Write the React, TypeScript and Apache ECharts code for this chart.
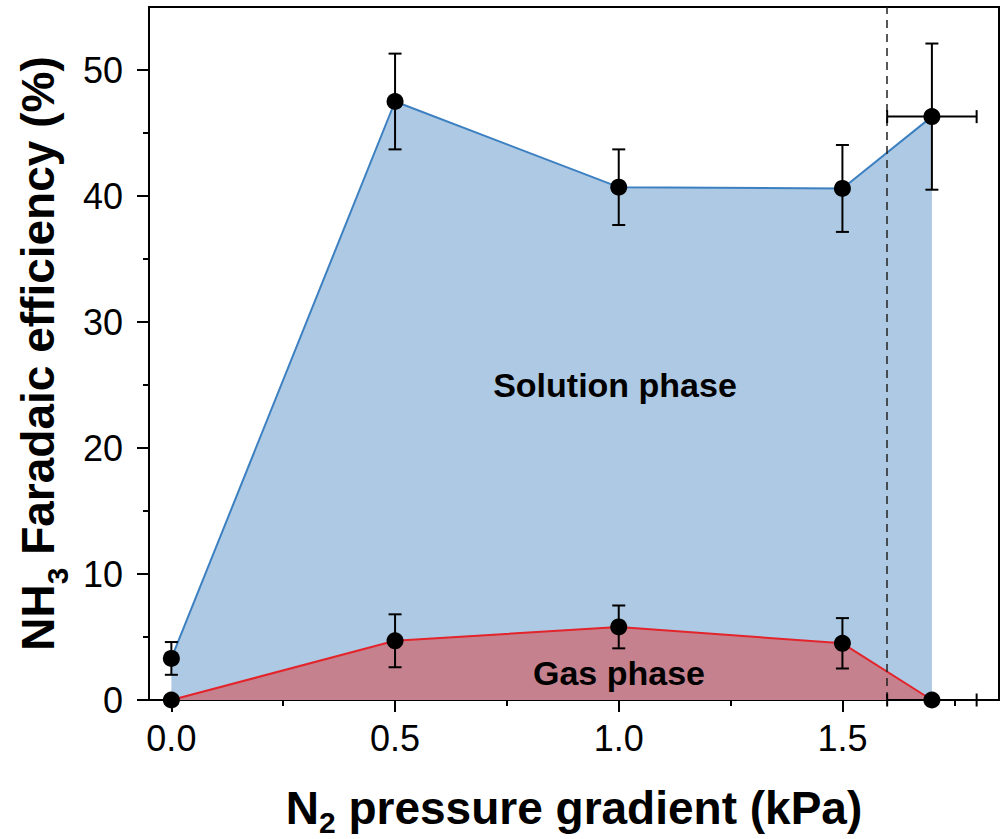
import React, { useEffect, useRef } from "react";
import * as echarts from "echarts";

const xValues = [0.0, 0.5, 1.0, 1.5, 1.7];
const solutionFE = [3.3, 47.5, 40.7, 40.6, 46.3];
const solutionErrY = [1.3, 3.8, 3.0, 3.45, 5.8];
const solutionErrX = [0, 0, 0, 0, 0.1];
const gasFE = [0.0, 4.7, 5.8, 4.5, 0.0];
const gasErrY = [0, 2.1, 1.7, 2.0, 0];
const gasErrX = [0, 0, 0, 0, 0.1];
const xMajorTicks = [0.0, 0.5, 1.0, 1.5];
const xMinorTicks = [0.25, 0.75, 1.25, 1.75];
const yMajorTicks = [0, 10, 20, 30, 40, 50];
const yMinorTicks = [5, 15, 25, 35, 45];
const dashedX = 1.6;

const FONT = "Liberation Sans, Arial, Helvetica, sans-serif";

export default function App() {
  const ref = useRef<HTMLDivElement>(null);
  useEffect(() => {
    document.body.style.margin = "0";
    if (!ref.current) return;
    const chart = echarts.init(ref.current, null, { renderer: "svg" });

    const solPts = xValues.map((x, i) => [x, solutionFE[i]]);
    const gasPts = xValues.map((x, i) => [x, gasFE[i]]);
    const errData = [
      ...xValues.map((x, i) => [x, solutionFE[i], solutionErrY[i], solutionErrX[i]]),
      ...xValues.map((x, i) => [x, gasFE[i], gasErrY[i], gasErrX[i]]),
    ];
    const cap = 6.5;

    const yTitleRich = {
      b: { fontSize: 46, fontWeight: "bold", fontFamily: FONT, color: "#000" },
      s: { fontSize: 30, fontWeight: "bold", fontFamily: FONT, color: "#000", padding: [38, 0, 0, 0] },
    };
    const xTitleRich = {
      b: { fontSize: 46, fontWeight: "bold", fontFamily: FONT, color: "#000" },
      s: { fontSize: 30, fontWeight: "bold", fontFamily: FONT, color: "#000", padding: [28, 0, 0, 0] },
    };

    const tickStyle = { color: "#000", width: 2 };

    const option: any = {
      animation: false,
      backgroundColor: "#fff",
      grid: {
        left: 149,
        right: 8,
        top: 7,
        bottom: 139,
        show: true,
        borderColor: "#000",
        borderWidth: 2,
        backgroundColor: "transparent",
        containLabel: false,
        outerBoundsMode: "none",
      },
      xAxis: [
        {
          type: "value",
          min: -0.05,
          max: 1.85,
          axisLine: { show: true, onZero: false, lineStyle: tickStyle },
          axisTick: { show: true, inside: false, length: 12, customValues: xMajorTicks, lineStyle: tickStyle },
          axisLabel: {
            show: true,
            customValues: xMajorTicks,
            formatter: (v: number) => v.toFixed(1),
            fontSize: 36,
            fontFamily: FONT,
            color: "#000",
            margin: 20,
          },
          splitLine: { show: false },
          name: "{b|N}{s|2}{b| pressure gradient (kPa)}",
          nameLocation: "middle",
          nameGap: 79,
          nameTextStyle: { rich: xTitleRich },
        },
        {
          type: "value",
          min: -0.05,
          max: 1.85,
          position: "bottom",
          axisLine: { show: false, onZero: false },
          axisTick: { show: true, inside: false, length: 6, customValues: xMinorTicks, lineStyle: tickStyle },
          axisLabel: { show: false },
          splitLine: { show: false },
        },
      ],
      yAxis: [
        {
          type: "value",
          min: 0,
          max: 55,
          axisLine: { show: true, onZero: false, lineStyle: tickStyle },
          axisTick: { show: true, inside: false, length: 12, customValues: yMajorTicks, lineStyle: tickStyle },
          axisLabel: {
            show: true,
            customValues: yMajorTicks,
            fontSize: 36,
            fontFamily: FONT,
            color: "#000",
            margin: 26,
          },
          splitLine: { show: false },
          name: "{b|NH}{s|3}{b| Faradaic efficiency (%)}",
          nameLocation: "middle",
          nameGap: 77,
          nameTextStyle: { rich: yTitleRich },
        },
        {
          type: "value",
          min: 0,
          max: 55,
          position: "left",
          axisLine: { show: false, onZero: false },
          axisTick: { show: true, inside: false, length: 6, customValues: yMinorTicks, lineStyle: tickStyle },
          axisLabel: { show: false },
          splitLine: { show: false },
        },
      ],
      series: [
        {
          name: "Solution phase",
          type: "line",
          xAxisIndex: 0,
          yAxisIndex: 0,
          data: solPts,
          showSymbol: false,
          symbol: "none",
          lineStyle: { color: "#3d80c1", width: 2 },
          areaStyle: { color: "#adc9e3", opacity: 1, origin: "start" },
          z: 1,
          markLine: {
            silent: true,
            symbol: "none",
            label: { show: false },
            lineStyle: { color: "#222", width: 1.5, type: [8, 6] },
            data: [{ xAxis: dashedX }],
          },
        },
        {
          name: "Gas phase",
          type: "line",
          xAxisIndex: 0,
          yAxisIndex: 0,
          data: gasPts,
          showSymbol: false,
          symbol: "none",
          lineStyle: { color: "#e3242b", width: 2 },
          areaStyle: { color: "#c6818f", opacity: 1, origin: "start" },
          z: 2,
        },
        {
          type: "custom",
          xAxisIndex: 0,
          yAxisIndex: 0,
          z: 5,
          data: errData,
          renderItem: (params: any, api: any) => {
            const x = api.value(0);
            const y = api.value(1);
            const ey = api.value(2);
            const ex = api.value(3);
            const style = { stroke: "#000", lineWidth: 2 };
            const children: any[] = [];
            if (ey > 0) {
              const top = api.coord([x, y + ey]);
              const bot = api.coord([x, y - ey]);
              children.push({ type: "line", shape: { x1: top[0], y1: top[1], x2: bot[0], y2: bot[1] }, style });
              children.push({ type: "line", shape: { x1: top[0] - cap, y1: top[1], x2: top[0] + cap, y2: top[1] }, style });
              children.push({ type: "line", shape: { x1: bot[0] - cap, y1: bot[1], x2: bot[0] + cap, y2: bot[1] }, style });
            }
            if (ex > 0) {
              const l = api.coord([x - ex, y]);
              const r = api.coord([x + ex, y]);
              children.push({ type: "line", shape: { x1: l[0], y1: l[1], x2: r[0], y2: r[1] }, style });
              children.push({ type: "line", shape: { x1: l[0], y1: l[1] - cap, x2: l[0], y2: l[1] + cap }, style });
              children.push({ type: "line", shape: { x1: r[0], y1: r[1] - cap, x2: r[0], y2: r[1] + cap }, style });
            }
            return { type: "group", children };
          },
        },
        {
          type: "scatter",
          xAxisIndex: 0,
          yAxisIndex: 0,
          data: [...solPts, ...gasPts],
          symbol: "circle",
          symbolSize: 17,
          itemStyle: { color: "#000", opacity: 1 },
          z: 6,
        },
      ],
      graphic: [
        {
          type: "text",
          x: 615,
          y: 385,
          style: {
            text: "Solution phase",
            fill: "#000",
            font: `bold 34px ${FONT}`,
            align: "center",
            verticalAlign: "middle",
          },
          z: 10,
        },
        {
          type: "text",
          x: 619,
          y: 673,
          style: {
            text: "Gas phase",
            fill: "#000",
            font: `bold 34px ${FONT}`,
            align: "center",
            verticalAlign: "middle",
          },
          z: 10,
        },
      ],
    };
    chart.setOption(option);
    return () => chart.dispose();
  }, []);
  return <div ref={ref} style={{ width: 1007, height: 839 }} />;
}
